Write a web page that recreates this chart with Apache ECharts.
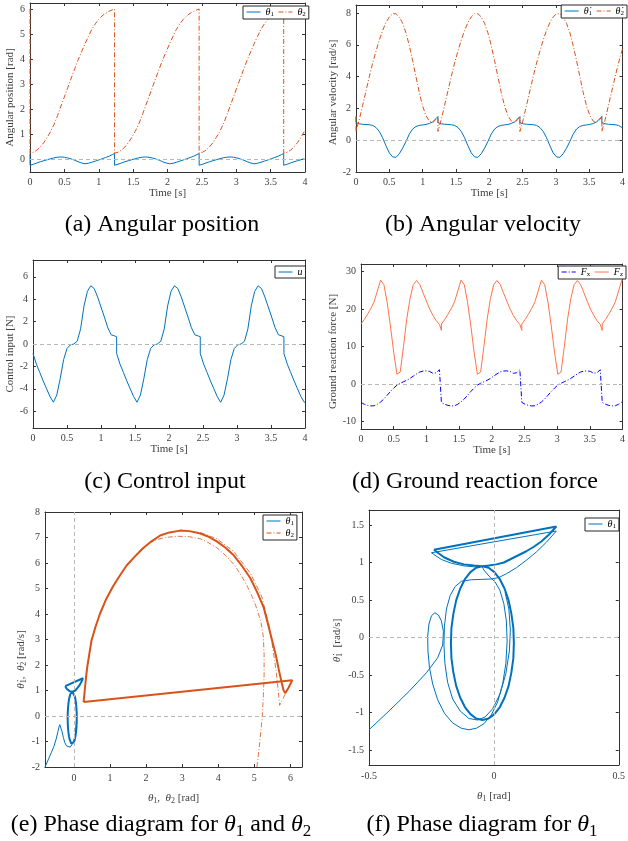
<!DOCTYPE html>
<html><head><meta charset="utf-8">
<script src="https://cdn.jsdelivr.net/npm/echarts@6/dist/echarts.min.js"></script>
<style>html,body{margin:0;padding:0;background:#fff}#c{width:628px;height:841px}</style>
</head><body><div id="c"></div>
<script>
// ---------------- DATA ----------------
const time = [0,0.05,0.1,0.15,0.2,0.25,0.3,0.35,0.4,0.45,0.5,0.55,0.6,0.65,0.7,0.75,0.8,0.85,0.9,0.95,1.0,1.05,1.1,1.15,1.2,1.23,
1.23,1.28,1.33,1.38,1.43,1.48,1.53,1.58,1.63,1.68,1.73,1.78,1.83,1.88,1.93,1.98,2.03,2.08,2.13,2.18,2.23,2.28,2.33,2.38,2.43,2.46,
2.46,2.51,2.56,2.61,2.66,2.71,2.76,2.81,2.86,2.91,2.96,3.01,3.06,3.11,3.16,3.21,3.26,3.31,3.36,3.41,3.46,3.51,3.56,3.61,3.66,3.69,
3.69,3.74,3.79,3.84,3.89,3.94,3.99,4.0];

const theta1PreJump = 0.24, theta2PreJump = 6.01, dtheta1PreJump = 1.48, dtheta2PreJump = 1.5;

const theta1 = [-0.23,-0.19,-0.14,-0.09,-0.05,-0.01,0.03,0.065,0.09,0.1,0.09,0.06,0.02,-0.03,-0.09,-0.14,-0.17,-0.15,-0.11,-0.065,-0.02,0.03,0.08,0.13,0.2,0.24,
-0.23,-0.19,-0.14,-0.09,-0.05,-0.01,0.03,0.065,0.09,0.1,0.09,0.06,0.02,-0.03,-0.09,-0.14,-0.17,-0.15,-0.11,-0.065,-0.02,0.03,0.08,0.13,0.2,0.24,
-0.23,-0.19,-0.14,-0.09,-0.05,-0.01,0.03,0.065,0.09,0.1,0.09,0.06,0.02,-0.03,-0.09,-0.14,-0.17,-0.15,-0.11,-0.065,-0.02,0.03,0.08,0.13,0.2,0.24,
-0.23,-0.19,-0.14,-0.09,-0.05,-0.01,0.03,0.035];

const theta2 = [0.25,0.29,0.37,0.5,0.67,0.88,1.12,1.4,1.75,2.13,2.5,2.88,3.25,3.62,3.98,4.3,4.62,4.92,5.2,5.42,5.6,5.74,5.84,5.92,5.98,6.01,
0.25,0.29,0.37,0.5,0.67,0.88,1.12,1.4,1.75,2.13,2.5,2.88,3.25,3.62,3.98,4.3,4.62,4.92,5.2,5.42,5.6,5.74,5.84,5.92,5.98,6.01,
0.25,0.29,0.37,0.5,0.67,0.88,1.12,1.4,1.75,2.13,2.5,2.88,3.25,3.62,3.98,4.3,4.62,4.92,5.2,5.42,5.6,5.74,5.84,5.92,5.98,6.01,
0.25,0.29,0.37,0.5,0.67,0.88,1.12,1.17];

const dtheta1 = [1.1,1.03,1.0,0.99,0.97,0.93,0.8,0.55,0.15,-0.35,-0.8,-1.05,-1.08,-0.85,-0.5,-0.08,0.38,0.7,0.86,0.93,0.96,0.99,1.05,1.15,1.35,1.48,
1.1,1.03,1.0,0.99,0.97,0.93,0.8,0.55,0.15,-0.35,-0.8,-1.05,-1.08,-0.85,-0.5,-0.08,0.38,0.7,0.86,0.93,0.96,0.99,1.05,1.15,1.35,1.48,
1.1,1.03,1.0,0.99,0.97,0.93,0.8,0.55,0.15,-0.35,-0.8,-1.05,-1.08,-0.85,-0.5,-0.08,0.38,0.7,0.86,0.93,0.96,0.99,1.05,1.15,1.35,1.48,
1.1,1.03,1.0,0.99,0.97,0.93,0.8,0.76];

const dtheta2 = [0.55,1.3,2.2,3.1,4.0,4.85,5.6,6.3,6.9,7.4,7.75,7.95,7.95,7.75,7.35,6.75,5.95,5.0,4.0,3.0,2.15,1.55,1.2,1.1,1.3,1.5,
0.55,1.3,2.2,3.1,4.0,4.85,5.6,6.3,6.9,7.4,7.75,7.95,7.95,7.75,7.35,6.75,5.95,5.0,4.0,3.0,2.15,1.55,1.2,1.1,1.3,1.5,
0.55,1.3,2.2,3.1,4.0,4.85,5.6,6.3,6.9,7.4,7.75,7.95,7.95,7.75,7.35,6.75,5.95,5.0,4.0,3.0,2.15,1.55,1.2,1.1,1.3,1.5,
0.55,1.3,2.2,3.1,4.0,4.85,5.6,5.75];

const controlU = [-0.85,-1.8,-2.55,-3.3,-4.0,-4.7,-5.2,-4.55,-3.1,-1.4,-0.4,-0.08,0.0,0.25,1.35,3.4,4.7,5.2,4.95,4.2,3.3,2.4,1.45,0.82,0.72,0.65,
-0.85,-1.8,-2.55,-3.3,-4.0,-4.7,-5.2,-4.55,-3.1,-1.4,-0.4,-0.08,0.0,0.25,1.35,3.4,4.7,5.2,4.95,4.2,3.3,2.4,1.45,0.82,0.72,0.65,
-0.85,-1.8,-2.55,-3.3,-4.0,-4.7,-5.2,-4.55,-3.1,-1.4,-0.4,-0.08,0.0,0.25,1.35,3.4,4.7,5.2,4.95,4.2,3.3,2.4,1.45,0.82,0.72,0.65,
-0.85,-1.8,-2.55,-3.3,-4.0,-4.7,-5.2,-5.22];

const forceX = [-4.9,-5.4,-5.7,-5.85,-5.8,-5.4,-4.8,-4.0,-3.0,-2.0,-1.1,-0.3,0.2,0.6,1.0,1.5,2.1,2.7,3.2,3.45,3.5,3.35,2.85,3.0,3.8,4.1,
-4.9,-5.4,-5.7,-5.85,-5.8,-5.4,-4.8,-4.0,-3.0,-2.0,-1.1,-0.3,0.2,0.6,1.0,1.5,2.1,2.7,3.2,3.45,3.5,3.35,2.85,3.0,3.8,4.1,
-4.9,-5.4,-5.7,-5.85,-5.8,-5.4,-4.8,-4.0,-3.0,-2.0,-1.1,-0.3,0.2,0.6,1.0,1.5,2.1,2.7,3.2,3.45,3.5,3.35,2.85,3.0,3.8,4.1,
-4.9,-5.4,-5.7,-5.85,-5.8,-5.4,-4.8,-4.75];

const forceZ = [16.0,17.2,18.6,20.1,21.9,24.8,27.7,26.5,21.8,15.5,8.5,2.6,3.2,10.0,17.3,22.8,26.5,27.6,26.5,24.3,22.1,20.0,18.3,16.9,15.9,14.3,
16.0,17.2,18.6,20.1,21.9,24.8,27.7,26.5,21.8,15.5,8.5,2.6,3.2,10.0,17.3,22.8,26.5,27.6,26.5,24.3,22.1,20.0,18.3,16.9,15.9,14.3,
16.0,17.2,18.6,20.1,21.9,24.8,27.7,26.5,21.8,15.5,8.5,2.6,3.2,10.0,17.3,22.8,26.5,27.6,26.5,24.3,22.1,20.0,18.3,16.9,15.9,14.3,
16.0,17.2,18.6,20.1,21.9,24.8,27.7,27.5];

// phase portrait theta1 (theta1, dtheta1): limit cycle
const cycleTheta1 = [[-0.24,1.17],[-0.2,1.07],[-0.16,1.01],[-0.12,0.975],[-0.08,0.96],[-0.046,0.95],
[-0.021,0.931],[0.002,0.872],[0.024,0.777],[0.043,0.65],[0.059,0.495],[0.07,0.318],[0.078,0.125],[0.08,-0.075],
[0.078,-0.275],[0.07,-0.468],[0.059,-0.645],[0.043,-0.8],[0.024,-0.927],[0.002,-1.022],[-0.021,-1.081],[-0.046,-1.1],
[-0.071,-1.081],[-0.094,-1.022],[-0.116,-0.927],[-0.135,-0.8],[-0.151,-0.645],[-0.162,-0.468],[-0.17,-0.275],[-0.172,-0.075],
[-0.17,0.125],[-0.162,0.318],[-0.151,0.495],[-0.135,0.65],[-0.116,0.777],[-0.094,0.872],[-0.071,0.931],[-0.046,0.95],
[-0.02,0.96],[0.01,0.975],[0.04,1.0],[0.07,1.05],[0.1,1.1],[0.13,1.15],[0.16,1.21],[0.19,1.28],[0.22,1.37],[0.25,1.48],[-0.24,1.17]];

// transient in panel (f)
const transientF1 = [[-0.5,-1.23],[-0.42,-0.98],[-0.34,-0.72],[-0.27,-0.47],[-0.225,-0.27],[-0.205,-0.1],[-0.202,0.08],[-0.21,0.22],
[-0.222,0.3],[-0.236,0.33],[-0.25,0.29],[-0.26,0.18],[-0.265,0.02],[-0.264,-0.18],[-0.258,-0.4],[-0.245,-0.62],[-0.225,-0.83],
[-0.198,-1.01],[-0.165,-1.14],[-0.13,-1.21],[-0.1,-1.23],[-0.07,-1.21],[-0.04,-1.15],[-0.01,-1.03],[0.015,-0.86],[0.035,-0.62],
[0.048,-0.35],[0.053,-0.05],[0.05,0.22],[0.04,0.45],[0.024,0.63],[0.005,0.74],[-0.02,0.82],[-0.04,0.9],[-0.046,0.94]];
const transientF2 = [[0.045,0.6],[0.06,0.38],[0.066,0.1],[0.062,-0.18],[0.048,-0.48],[0.025,-0.75],[-0.005,-0.95],[-0.035,-1.06],
[-0.065,-1.1],[-0.1,-1.08],[-0.135,-0.98],[-0.165,-0.82],[-0.185,-0.6],[-0.196,-0.35],[-0.2,-0.1],[-0.198,0.15],[-0.19,0.38],
[-0.175,0.56],[-0.155,0.68],[-0.13,0.75],[-0.09,0.77],[-0.05,0.775],[-0.01,0.78],[0.02,0.8],[0.05,0.85],[0.09,0.93],[0.13,1.03],
[0.17,1.14],[0.21,1.27],[0.25,1.42],[-0.25,1.13],[-0.21,1.04],[-0.17,0.99],[-0.12,0.955],[-0.07,0.94]];

// transient of theta1 in panel (e)
const transientE1 = [[-0.8,-2.0],[-0.7,-1.68],[-0.62,-1.42],[-0.55,-1.18],[-0.49,-0.9],[-0.44,-0.6],[-0.41,-0.42],[-0.39,-0.34],
[-0.36,-0.4],[-0.33,-0.6],[-0.29,-0.85],[-0.25,-1.05],[-0.2,-1.18],[-0.15,-1.24],[-0.1,-1.22],[-0.05,-1.12],[0.0,-0.95],
[0.04,-0.7],[0.065,-0.35],[0.075,0.0]];

// phase portrait theta2 (theta2, dtheta2)
const cycleTheta2 = [[0.27,0.55],[0.31,1.14],[0.34,1.55],[0.37,1.92],[0.43,2.45],[0.49,2.97],[0.6,3.5],[0.72,4.0],[0.9,4.6],
[1.09,5.1],[1.27,5.5],[1.46,5.9],[1.7,6.27],[1.93,6.6],[2.15,6.85],[2.39,7.08],[2.65,7.2],[2.94,7.27],[3.2,7.25],[3.45,7.18],
[3.7,7.05],[3.96,6.85],[4.2,6.6],[4.43,6.3],[4.65,5.9],[4.89,5.4],[5.08,4.85],[5.26,4.25],[5.38,3.6],[5.49,2.97],[5.6,2.35],
[5.68,1.8],[5.75,1.35],[5.81,1.0],[5.86,0.9],[5.95,1.12],[6.05,1.4],[0.27,0.55]];
const transientE2a = [[5.07,-2.0],[5.13,-1.3],[5.18,-0.6],[5.22,0.0],[5.25,0.8],[5.27,1.6],[5.27,2.4],[5.25,3.1],[5.18,3.7],
[5.07,4.2],[4.95,4.65],[4.8,5.1],[4.6,5.6],[4.43,5.95],[4.2,6.3],[3.96,6.6],[3.7,6.82],[3.5,6.95],[3.2,7.03],[2.85,7.05],
[2.55,7.0],[2.3,6.92],[2.05,6.75],[1.8,6.45],[1.55,6.02]];
const transientE2b = [[3.5,7.2],[3.96,6.95],[4.43,6.45],[4.89,5.6],[5.2,4.7],[5.4,3.6],[5.52,2.6],[5.6,1.8],[5.66,1.0],
[5.7,0.42],[5.8,0.7],[5.92,1.05],[6.02,1.32]];

// tick values
const ticksTime = [0,0.5,1,1.5,2,2.5,3,3.5,4];
const ticksA = [0,1,2,3,4,5,6];
const ticksB = [-2,0,2,4,6,8];
const ticksC = [-6,-4,-2,0,2,4,6];
const ticksD = [-10,0,10,20,30];
const ticksEx = [0,1,2,3,4,5,6];
const ticksEy = [-2,-1,0,1,2,3,4,5,6,7,8];
const ticksFx = [-0.5,0,0.5];
const ticksFy = [-1.5,-1,-0.5,0,0.5,1,1.5];

// ---------------- STYLE / BUILD ----------------
const FF = "'Liberation Serif','Times New Roman',serif";
const TXT = '#404040', AX = '#333333';
const BLUE = '#0072BD', ORANGE = '#D95319', FXC = '#0000FF', FZC = '#FF7448';
const DASHDOT = [5,2,1,2];

const RICH_CAP = {
  t:{fontFamily:FF, fontStyle:'italic', fontSize:24, color:'#000'},
  s:{fontFamily:FF, fontSize:17, color:'#000', padding:[13,0,0,0]}
};
const RICH_AX = {
  t:{fontFamily:FF, fontStyle:'italic', fontSize:11, color:TXT},
  s:{fontFamily:FF, fontSize:8, color:TXT, padding:[6,0,0,0]},
  n:{fontFamily:FF, fontSize:11, color:TXT}
};
const RICH_LEG = {
  t:{fontFamily:FF, fontStyle:'italic', fontSize:10, color:'#000'},
  s:{fontFamily:FF, fontSize:7, color:'#000', padding:[5,0,0,0]}
};
const LEG_LABEL = {
  a1:'{t|θ}{s|1}', a2:'{t|θ}{s|2}', b1:'{t|θ̇}{s|1}', b2:'{t|θ̇}{s|2}', c1:'{t|u}',
  d1:'{t|F}{s|x}', d2:'{t|F}{s|z}', e1:'{t|θ}{s|1}', e2:'{t|θ}{s|2}', f1:'{t|θ}{s|1}'
};

function zip(t, v){ return t.map((x,i)=>[x, v[i]]); }

const grids = [
  {left:30, top:3, width:275, height:169},
  {left:356, top:5, width:271, height:167},
  {left:33, top:260, width:272, height:168},
  {left:361, top:264, width:267, height:165},
  {left:45, top:512, width:257, height:255},
  {left:369, top:510, width:253, height:255}
];

function xAx(gi, min, max, ticks, name, gap, margin){
  const common = {type:'value', gridIndex:gi, min, max, splitLine:{show:false},
    axisLine:{show:true, onZero:false, lineStyle:{color:AX, width:1}},
    axisTick:{show:true, inside:true, length:3, customValues:ticks, lineStyle:{color:AX, width:1}}};
  return [
    Object.assign({}, common, {position:'bottom', name, nameLocation:'middle', nameGap:gap,
      nameTextStyle:{fontFamily:FF, fontSize:11, color:TXT, rich:RICH_AX},
      axisLabel:{show:true, customValues:ticks, margin:margin, fontFamily:FF, fontSize:10, color:TXT}}),
    Object.assign({}, common, {position:'top', axisLabel:{show:false}})
  ];
}
function yAx(gi, min, max, ticks, name, gap, shift){
  const common = {type:'value', gridIndex:gi, min, max, splitLine:{show:false},
    axisLine:{show:true, onZero:false, lineStyle:{color:AX, width:1}},
    axisTick:{show:true, inside:true, length:3, customValues:ticks, lineStyle:{color:AX, width:1}}};
  return [
    Object.assign({}, common, {position:'left', name, nameLocation:'middle', nameGap:gap,
      nameTextStyle:{fontFamily:FF, fontSize:11, color:TXT, rich:RICH_AX, padding:[0, 2*shift, 0, 0]},
      axisLabel:{show:true, customValues:ticks, margin:5, fontFamily:FF, fontSize:10, color:TXT}}),
    Object.assign({}, common, {position:'right', axisLabel:{show:false}})
  ];
}

const xAxis = [].concat(
  xAx(0, 0, 4, ticksTime, 'Time [s]', 16, 5),
  xAx(1, 0, 4, ticksTime, 'Time [s]', 16, 5),
  xAx(2, 0, 4, ticksTime, 'Time [s]', 16, 5),
  xAx(3, 0, 4, ticksTime, 'Time [s]', 16, 5),
  xAx(4, -0.8, 6.32, ticksEx, '{t|θ}{s|1}{n|,  }{t|θ}{s|2}{n| [rad]}', 24, 6),
  xAx(5, -0.5, 0.5, ticksFx, '{t|θ}{s|1}{n| [rad]}', 24, 6)
);
const yAxis = [].concat(
  yAx(0, -0.5, 6.25, ticksA, 'Angular position [rad]', 13, 10),
  yAx(1, -2, 8.5, ticksB, 'Angular velocity [rad/s]', 16, 4),
  yAx(2, -7.5, 7.5, ticksC, 'Control input [N]', 16, 10),
  yAx(3, -12, 32, ticksD, 'Ground reaction force [N]', 21, 5),
  yAx(4, -2, 8, ticksEy, '{t|θ̇}{s|1}{n|,  }{t|θ̇}{s|2}{n| [rad/s]}', 13, 20),
  yAx(5, -1.7, 1.7, ticksFy, '{t|θ̇}{s|1}{n|  [rad/s]}', 23, 3)
);

const ZERO_STYLE = {color:'#b8b8b8', type:[4,3], width:1};
function zeroLine(vertical){
  const d = [{yAxis:0}];
  if (vertical) d.push({xAxis:0});
  return {silent:true, symbol:'none', animation:false, label:{show:false}, lineStyle:ZERO_STYLE, data:d};
}
function line(name, gi, data, color, width, type, extra){
  return Object.assign({type:'line', name, xAxisIndex:2*gi, yAxisIndex:2*gi, data, color,
    showSymbol:false, symbol:'none', clip:true, silent:true, animation:false,
    lineStyle:{color, width, type}}, extra || {});
}

const series = [
  line('a1', 0, [[0, theta1PreJump]].concat(zip(time, theta1)), BLUE, 1, 'solid', {markLine:zeroLine(false)}),
  line('a2', 0, [[0, theta2PreJump]].concat(zip(time, theta2)), ORANGE, 1, DASHDOT),
  line('b1', 1, [[0, dtheta1PreJump]].concat(zip(time, dtheta1)), BLUE, 1, 'solid', {markLine:zeroLine(false)}),
  line('b2', 1, [[0, dtheta2PreJump]].concat(zip(time, dtheta2)), ORANGE, 1, DASHDOT),
  line('c1', 2, zip(time, controlU), BLUE, 1, 'solid', {markLine:zeroLine(false)}),
  line('d1', 3, zip(time, forceX), FXC, 1, DASHDOT, {markLine:zeroLine(false)}),
  line('d2', 3, zip(time, forceZ), FZC, 1, 'solid'),
  line('e1', 4, transientE1, BLUE, 1, 'solid', {markLine:zeroLine(true)}),
  line('e1', 4, cycleTheta1, BLUE, 2, 'solid'),
  line('e2', 4, transientE2a, ORANGE, 0.8, DASHDOT),
  line('e2', 4, transientE2b, ORANGE, 0.8, DASHDOT),
  line('e2', 4, cycleTheta2, ORANGE, 2, 'solid'),
  line('f1', 5, transientF1, BLUE, 1, 'solid', {markLine:zeroLine(true)}),
  line('f1', 5, transientF2, BLUE, 1, 'solid'),
  line('f1', 5, cycleTheta1, BLUE, 2, 'solid')
];

function legend(names, pos, orient){
  return Object.assign({data:names, orient: orient || 'horizontal', selectedMode:false,
    itemWidth:14, itemHeight:8, itemGap: orient === 'vertical' ? 1 : 4, padding:[1,3,1,3],
    backgroundColor:'#fff', borderColor:'#262626', borderWidth:1, borderRadius:0,
    lineStyle:{width:1},
    itemStyle:{opacity:0, borderWidth:0},
    textStyle:{fontFamily:FF, fontSize:10, color:'#000', rich:RICH_LEG},
    formatter: n => LEG_LABEL[n]}, pos);
}
const legends = [
  legend(['a1','a2'], {left:243, top:6}),
  legend(['b1','b2'], {right:1, top:5}),
  legend(['c1'], {left:275, top:266}),
  legend(['d1','d2'], {right:2, top:266}),
  legend(['e1','e2'], {left:263, top:515}, 'vertical'),
  legend(['f1'], {left:585, top:518})
];

function cap(text, cx, top){
  return {text, left:cx, top, textAlign:'center', padding:0,
    textStyle:{fontFamily:FF, fontSize:24, fontWeight:'normal', color:'#000', rich:RICH_CAP}};
}
const titles = [
  cap('(a) Angular position', 162, 213),
  cap('(b) Angular velocity', 483, 213),
  cap('(c) Control input', 165, 470),
  cap('(d) Ground reaction force', 475, 470),
  cap('(e) Phase diagram for {t|θ}{s|1} and {t|θ}{s|2}', 161, 810),
  cap('(f) Phase diagram for {t|θ}{s|1}', 482, 810)
];

const chart = echarts.init(document.getElementById('c'), null, {renderer:'canvas'});
chart.setOption({
  animation:false,
  backgroundColor:'#fff',
  title:titles,
  legend:legends,
  grid:grids,
  xAxis, yAxis, series
});
</script></body></html>
